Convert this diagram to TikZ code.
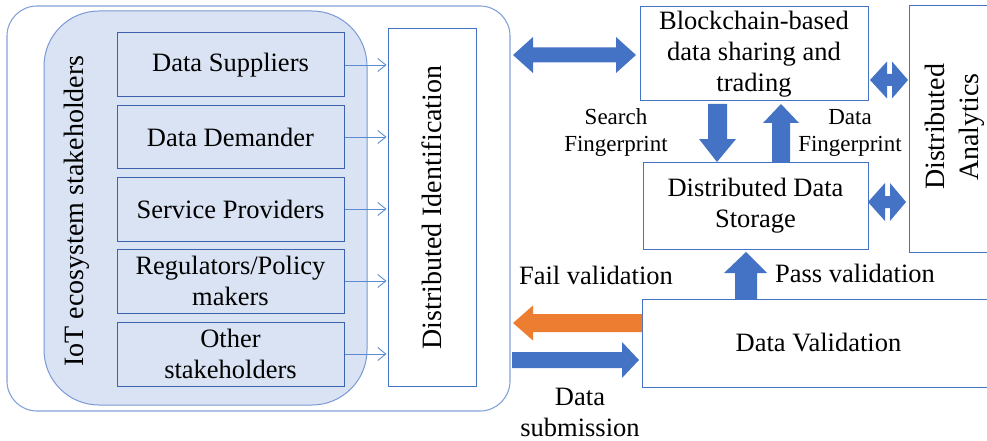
\documentclass[tikz,border=0pt]{standalone}
\usepackage{fontspec}
\setmainfont{Liberation Serif}
\usetikzlibrary{arrows.meta,calc}
\definecolor{fillblue}{HTML}{DAE3F3}
\definecolor{edgeblue}{HTML}{4472C4}
\definecolor{darkedge}{HTML}{3A62AE}
\definecolor{paleedge}{HTML}{8FAADC}
\definecolor{thinarrow}{HTML}{5B8BD0}
\definecolor{failorange}{HTML}{ED7D31}
\begin{document}
\begin{tikzpicture}[x=1pt,y=-1pt,
  maintext/.style={font=\fontsize{26.5}{31}\selectfont, align=center, text=black},
  sidetext/.style={font=\fontsize{28}{34}\selectfont, align=center, text=black, rotate=90},
  smalltext/.style={font=\fontsize{23}{27}\selectfont, align=center, text=black},
  holderbox/.style={draw=darkedge, line width=1pt, fill=fillblue, minimum width=227pt, inner sep=0pt, maintext},
  whitebox/.style={draw=edgeblue, line width=1pt, fill=white, inner sep=0pt, maintext},
  feed/.style={draw=thinarrow, line width=0.9pt, -{Straight Barb[length=8pt,width=13pt]}},
  blockarrow/.style={fill=edgeblue, draw=none},
  failarrow/.style={fill=failorange, draw=none}]
\useasboundingbox (0,0) rectangle (987,441);
\clip (0,0) rectangle (987,441);

% outer frame and stakeholder group
\draw[paleedge!85!edgeblue, line width=1.1pt, rounded corners=30pt] (7,6) rectangle (510,411);
\draw[draw=paleedge!70!edgeblue, line width=1pt, fill=fillblue, rounded corners=55pt] (44,11) rectangle (367,405);
\node[sidetext] (iot) at (77,211) {IoT ecosystem stakeholders};

% stakeholder boxes
\node[holderbox, minimum height=64pt] (s1) at (230.5,65) {Data Suppliers};
\node[holderbox, minimum height=62pt] (s2) at (230.5,137) {Data Demander};
\node[holderbox, minimum height=64pt] (s3) at (230.5,209) {Service Providers};
\node[holderbox, minimum height=64pt] (s4) at (230.5,281) {Regulators/Policy\\makers};
\node[holderbox, minimum height=64pt] (s5) at (230.5,354) {Other\\stakeholders};

% identification layer
\node[whitebox, minimum width=88pt, minimum height=357pt] (id) at (432,207.5) {};
\node[sidetext] (idtext) at (id.center) {Distributed Identification};

\foreach \s in {s1,s2,s3,s4,s5}
  \draw[feed] (\s.east) -- ($(\s.east -| id.west)+(-1,0)$);

% right-hand blocks
\node[whitebox, minimum width=228pt, minimum height=94pt] (bc) at (754,54) {Blockchain-based\\data sharing and\\trading};
\node[whitebox, minimum width=225pt, minimum height=87pt] (ds) at (755.5,205.5) {Distributed Data\\Storage};
\node[whitebox, minimum width=91pt, minimum height=246pt] (da) at (954.5,129) {};
\node[sidetext] (datext) at (955,127) {Distributed\\Analytics};
\node[whitebox, minimum width=353pt, minimum height=88pt] (dv) at (818.5,343) {Data Validation};

% block arrows
\fill[blockarrow] (513,55) -- (533,37) -- (533,47.5) -- (616,47.5) -- (616,37) -- (636,55)
  -- (616,73) -- (616,62.5) -- (533,62.5) -- (533,73) -- cycle;
\fill[blockarrow] (708,104) -- (727,104) -- (727,139) -- (736,139) -- (717,162) -- (699,139) -- (708,139) -- cycle;
\fill[blockarrow] (781,104) -- (799,123) -- (790,123) -- (790,162) -- (772,162) -- (772,123) -- (763,123) -- cycle;
\fill[blockarrow] (870,80) -- (887,61.5) -- (887,74) -- (892,74) -- (892,61.5) -- (908,80)
  -- (892,98.5) -- (892,86) -- (887,86) -- (887,98.5) -- cycle;
\fill[blockarrow] (868,202) -- (885,183) -- (885,196) -- (890,196) -- (890,183) -- (906,202)
  -- (890,221) -- (890,208) -- (885,208) -- (885,221) -- cycle;
\fill[blockarrow] (746,252) -- (767,273) -- (757,273) -- (757,299) -- (735,299) -- (735,273) -- (724,273) -- cycle;
\fill[failarrow] (642,314) -- (533,314) -- (533,305.5) -- (513,323) -- (533,340.5) -- (533,332) -- (642,332) -- cycle;
\fill[blockarrow] (512,352) -- (622,352) -- (622,342) -- (639,360) -- (622,378) -- (622,368) -- (512,368) -- cycle;

% labels
\node[smalltext] (lsearch) at (616,133) {Search\\Fingerprint};
\node[smalltext] (lfinger) at (850,133) {Data\\Fingerprint};
\node[maintext] (lfail) at (596,275) {Fail validation};
\node[maintext] (lpass) at (855,273) {Pass validation};
\node[maintext] (lsubmit) at (580,412) {Data\\submission};
\end{tikzpicture}
\end{document}
